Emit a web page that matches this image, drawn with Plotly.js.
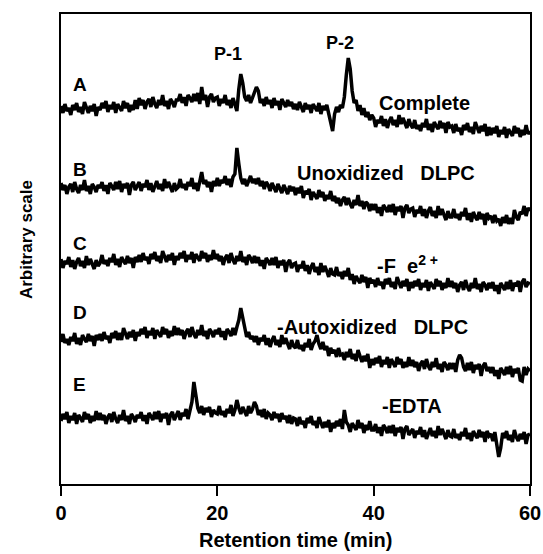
<!DOCTYPE html>
<html>
<head>
<meta charset="utf-8">
<script src="https://cdn.plot.ly/plotly-3.0.1.min.js"></script>
<style>html,body{margin:0;padding:0;background:#fff}#chart{width:543px;height:554px}</style>
</head>
<body>
<div id="chart"></div>
<script>
// Retention time (min), one row = 5 min
var time = [
0,0.25,0.5,0.75,1,1.25,1.5,1.75,2,2.25,2.5,2.75,3,3.25,3.5,3.75,4,4.25,4.5,4.75,
5,5.25,5.5,5.75,6,6.25,6.5,6.75,7,7.25,7.5,7.75,8,8.25,8.5,8.75,9,9.25,9.5,9.75,
10,10.25,10.5,10.75,11,11.25,11.5,11.75,12,12.25,12.5,12.75,13,13.25,13.5,13.75,14,14.25,14.5,14.75,
15,15.25,15.5,15.75,16,16.25,16.5,16.75,17,17.25,17.5,17.75,18,18.25,18.5,18.75,19,19.25,19.5,19.75,
20,20.25,20.5,20.75,21,21.25,21.5,21.75,22,22.25,22.5,22.75,23,23.25,23.5,23.75,24,24.25,24.5,24.75,
25,25.25,25.5,25.75,26,26.25,26.5,26.75,27,27.25,27.5,27.75,28,28.25,28.5,28.75,29,29.25,29.5,29.75,
30,30.25,30.5,30.75,31,31.25,31.5,31.75,32,32.25,32.5,32.75,33,33.25,33.5,33.75,34,34.25,34.5,34.75,
35,35.25,35.5,35.75,36,36.25,36.5,36.75,37,37.25,37.5,37.75,38,38.25,38.5,38.75,39,39.25,39.5,39.75,
40,40.25,40.5,40.75,41,41.25,41.5,41.75,42,42.25,42.5,42.75,43,43.25,43.5,43.75,44,44.25,44.5,44.75,
45,45.25,45.5,45.75,46,46.25,46.5,46.75,47,47.25,47.5,47.75,48,48.25,48.5,48.75,49,49.25,49.5,49.75,
50,50.25,50.5,50.75,51,51.25,51.5,51.75,52,52.25,52.5,52.75,53,53.25,53.5,53.75,54,54.25,54.5,54.75,
55,55.25,55.5,55.75,56,56.25,56.5,56.75,57,57.25,57.5,57.75,58,58.25,58.5,58.75,59,59.25,59.5,59.75,
60];

// Trace names, labels, vertical offsets (arbitrary units)
var traceNames = ["A", "B", "C", "D", "E"];
var conditions = ["Complete", "Unoxidized\u00a0\u00a0\u00a0DLPC", "-F\u00a0\u00a0e<sup>2\u00a0+</sup>", "-Autoxidized\u00a0\u00a0\u00a0DLPC", "-EDTA"];
var offsets = [375, 296, 221, 144, 66];

// Detector signal (arbitrary units), relative to each trace's start
var sigA = [
3,-4,5,-2,1,-6,4,-1,6,-3,2,-5,7,0,-4,3,-2,5,-7,2,
-1,6,1,8,-3,4,0,7,-4,5,2,-2,8,1,6,-3,4,-1,9,0,
11,4,9,0,7,10,2,12,5,1,9,4,14,3,8,0,10,7,2,9,
9,15,6,12,3,14,11,7,15,8,16,5,22,9,14,2,12,15,7,11,
12,3,10,6,14,4,9,1,11,5,-2,20,35,26,12,8,14,6,11,15,
22,18,6,10,3,12,5,9,1,11,4,8,-1,10,6,2,9,3,7,0,
5,-1,7,2,-3,6,0,4,-4,5,1,-2,6,-5,3,-1,4,-6,-12,-22,
-5,2,-3,4,1,12,34,51,40,18,6,9,-2,4,-6,1,-8,-3,-11,-6,
-9,-18,-11,-14,-7,-17,-10,-19,-12,-8,-16,-11,-18,-6,-15,-9,-14,-19,-10,-16,
-19,-11,-20,-16,-22,-14,-18,-10,-21,-15,-23,-13,-17,-20,-12,-19,-14,-24,-13,-18,
-17,-24,-15,-22,-19,-26,-16,-21,-14,-23,-18,-25,-13,-20,-24,-17,-22,-15,-27,-18,
-26,-19,-24,-17,-28,-21,-25,-18,-29,-20,-23,-27,-17,-24,-19,-28,-21,-26,-16,-25,
-22];

var sigB = [
5,-2,3,-6,1,4,-4,6,-1,-5,3,-2,8,-3,2,-6,4,1,-4,3,
0,6,-3,3,-6,5,2,-2,6,-1,7,-4,4,0,5,-7,3,6,-2,2,
6,-3,4,1,8,-2,5,-4,3,7,-1,4,-3,9,0,6,1,-4,5,-1,
1,9,0,4,-2,6,2,10,-1,5,-3,7,16,4,8,1,6,-4,7,2,
10,2,8,5,12,3,9,1,11,14,40,24,10,4,9,2,8,12,5,9,
4,10,2,7,-1,6,3,-3,5,1,-4,4,0,-5,3,-2,-6,2,-3,1,
-7,0,-5,2,-10,-3,-6,-1,-12,-4,-7,-11,-2,-9,-4,-13,-7,-11,-3,-13,
-8,-15,-10,-18,-12,-9,-17,-10,-16,-20,-12,-17,-7,-18,-13,-21,-14,-16,-23,-16,
-22,-16,-25,-19,-28,-17,-20,-24,-17,-24,-16,-27,-19,-23,-18,-30,-20,-17,-25,-21,
-20,-29,-22,-25,-18,-28,-21,-30,-23,-19,-28,-23,-30,-18,-27,-21,-27,-32,-23,-29,
-29,-21,-30,-26,-32,-24,-28,-20,-32,-25,-34,-24,-29,-32,-24,-31,-26,-37,-25,-30,
-28,-35,-27,-33,-31,-38,-29,-35,-27,-36,-30,-36,-22,-29,-32,-24,-26,-18,-28,-20,
-23];

var sigC = [
4,-5,2,-1,6,-4,3,-6,1,5,-3,2,-5,7,-2,4,-1,-6,3,-3,
0,8,-1,3,-3,5,1,9,-2,4,-4,6,2,-1,7,0,5,-5,6,1,
8,1,10,3,6,-1,9,4,11,2,7,0,12,5,1,8,3,10,-2,7,
3,10,5,12,1,8,4,11,0,9,6,2,12,5,10,1,8,3,13,4,
9,2,7,-2,5,8,0,10,3,-1,7,2,12,1,6,-2,8,5,0,7,
0,6,-3,3,-6,5,2,-2,5,-2,6,-5,2,-2,3,-9,0,3,-5,-1,
0,-9,-2,-5,2,-8,-2,-11,-4,0,-9,-4,-12,0,-9,-3,-8,-14,-5,-11,
-12,-4,-13,-9,-16,-8,-13,-5,-17,-11,-21,-13,-17,-20,-12,-19,-14,-25,-15,-20,
-17,-24,-15,-22,-19,-26,-16,-21,-15,-24,-19,-26,-14,-21,-25,-18,-23,-16,-28,-19,
-25,-18,-23,-16,-27,-20,-24,-17,-28,-19,-22,-26,-16,-23,-18,-27,-20,-25,-15,-24,
-18,-25,-20,-29,-22,-19,-27,-17,-24,-28,-20,-25,-15,-26,-21,-29,-19,-22,-27,-20,
-25,-19,-28,-22,-31,-20,-23,-27,-19,-26,-17,-28,-20,-23,-18,-29,-19,-16,-24,-20,
-21];

var sigD = [
-2,6,-3,1,-5,3,-1,7,-4,2,-5,5,1,-2,6,-1,4,-6,5,0,
6,-1,8,1,4,-3,7,2,9,0,7,0,12,5,1,8,3,10,-1,8,
4,11,6,13,2,9,5,12,1,10,7,3,13,6,11,2,9,4,14,5,
12,5,10,1,8,11,3,13,6,2,10,5,15,4,9,1,11,8,3,10,
6,12,3,9,0,11,8,4,12,5,13,20,32,22,12,3,8,1,4,-2,
4,-5,2,-1,5,-5,2,-7,0,4,-5,0,-7,5,-4,2,-4,-9,0,-6,
-8,0,-9,-5,-11,-3,-7,1,-10,-4,-1,5,-4,-9,-2,-10,-6,-16,-8,-13,
-10,-17,-8,-15,-14,-20,-12,-17,-9,-19,-14,-21,-10,-17,-22,-16,-21,-14,-28,-19,
-25,-18,-23,-16,-27,-20,-24,-17,-28,-19,-23,-27,-17,-24,-19,-28,-22,-27,-17,-26,
-20,-27,-22,-31,-24,-21,-29,-19,-26,-30,-22,-27,-18,-29,-24,-32,-22,-25,-30,-23,
-29,-23,-32,-20,-15,-18,-27,-31,-23,-30,-22,-33,-25,-29,-24,-36,-26,-23,-31,-27,
-33,-27,-36,-30,-39,-28,-31,-35,-27,-34,-26,-37,-29,-33,-28,-40,-41,-27,-35,-29,
-31];

var sigE = [
-3,4,-1,6,-5,2,-2,5,-6,3,0,-4,6,-1,4,-5,2,-3,7,-2,
5,-2,3,-6,1,4,-4,6,-1,-5,3,-2,8,-3,2,-6,4,1,-4,3,
0,6,-3,3,-6,5,2,-2,6,-1,7,-4,4,0,5,-7,3,6,-2,2,
7,-2,5,2,9,-1,6,16,36,22,10,5,12,3,10,6,11,1,8,5,
4,12,3,7,1,9,5,13,2,8,18,10,4,11,6,2,12,5,9,16,
12,3,8,1,9,-1,5,3,-2,6,0,4,-4,5,-1,2,-5,3,-6,0,
-1,-8,1,-6,-3,-10,0,-5,2,-7,-3,-10,1,-6,-10,-4,-9,-2,-14,-5,
-10,-3,-8,-1,-11,8,-4,-7,-14,-5,-8,-12,-2,-10,-5,-15,-7,-12,-3,-12,
-12,-6,-15,-9,-18,-7,-10,-15,-8,-15,-7,-18,-10,-14,-9,-21,-11,-8,-17,-13,
-11,-20,-13,-16,-9,-19,-12,-21,-14,-10,-18,-13,-20,-8,-17,-11,-16,-21,-12,-18,
-19,-11,-20,-16,-22,-14,-18,-10,-21,-15,-23,-13,-17,-20,-12,-19,-14,-24,-13,-18,
-16,-23,-14,-28,-39,-30,-15,-20,-13,-22,-17,-24,-12,-19,-23,-16,-21,-14,-26,-17,
-16];

var signals = [sigA, sigB, sigC, sigD, sigE];

var traces = signals.map(function (s, i) {
  return {
    x: time,
    y: s.map(function (v) { return v + offsets[i]; }),
    type: 'scatter', mode: 'lines', name: traceNames[i],
    line: {color: '#000', width: 3.5},
    hoverinfo: 'skip'
  };
});

var boldFont = function (sz) { return {family: 'Liberation Sans, Arial, sans-serif', size: sz, color: '#000', weight: 'bold'}; };

// label anchor positions (data units)
var letterX = 2.43;
var letterY = [400, 315, 241, 172, 100];
var condX = [40.42, 29.93, 40.17, 27.38, 40.81];
var condY = [381, 311, 220, 157, 78];
var peakNames = ["P-1", "P-2"];
var peakX = [21.36, 35.68];
var peakY = [430, 441];

var annotations = [];
traceNames.forEach(function (n, i) {
  annotations.push({x: letterX, y: letterY[i], xref: 'x', yref: 'y', text: n, showarrow: false,
    xanchor: 'center', yanchor: 'middle', font: boldFont(19)});
  annotations.push({x: condX[i], y: condY[i], xref: 'x', yref: 'y', text: conditions[i], showarrow: false,
    xanchor: 'left', yanchor: 'middle', font: boldFont(20)});
});
peakNames.forEach(function (n, i) {
  annotations.push({x: peakX[i], y: peakY[i], xref: 'x', yref: 'y', text: n, showarrow: false,
    xanchor: 'center', yanchor: 'middle', font: boldFont(18)});
});
annotations.push({x: 0.5, y: -0.119, xref: 'paper', yref: 'paper', text: 'Retention time (min)', showarrow: false,
  xanchor: 'center', yanchor: 'middle', font: boldFont(20)});
annotations.push({x: -0.0746, y: 0.519, xref: 'paper', yref: 'paper', text: 'Arbitrary scale', showarrow: false,
  textangle: -90, xanchor: 'center', yanchor: 'middle', font: boldFont(17)});

var layout = {
  width: 543, height: 554,
  margin: {l: 61, r: 13, t: 14, b: 70},
  paper_bgcolor: '#fff', plot_bgcolor: '#fff',
  showlegend: false,
  xaxis: {
    range: [0, 60], tickvals: [0, 20, 40, 60], ticktext: ['0', '20', '40', '60'],
    ticks: 'outside', ticklen: 10, tickwidth: 2, tickcolor: '#000',
    showline: true, linewidth: 2, linecolor: '#000', mirror: true,
    showgrid: false, zeroline: false, tickfont: boldFont(20)
  },
  yaxis: {
    range: [0, 470], showticklabels: false, ticks: '',
    showline: true, linewidth: 2, linecolor: '#000', mirror: true,
    showgrid: false, zeroline: false
  },
  annotations: annotations
};

Plotly.newPlot('chart', traces, layout, {staticPlot: true, displayModeBar: false});
</script>
</body>
</html>
